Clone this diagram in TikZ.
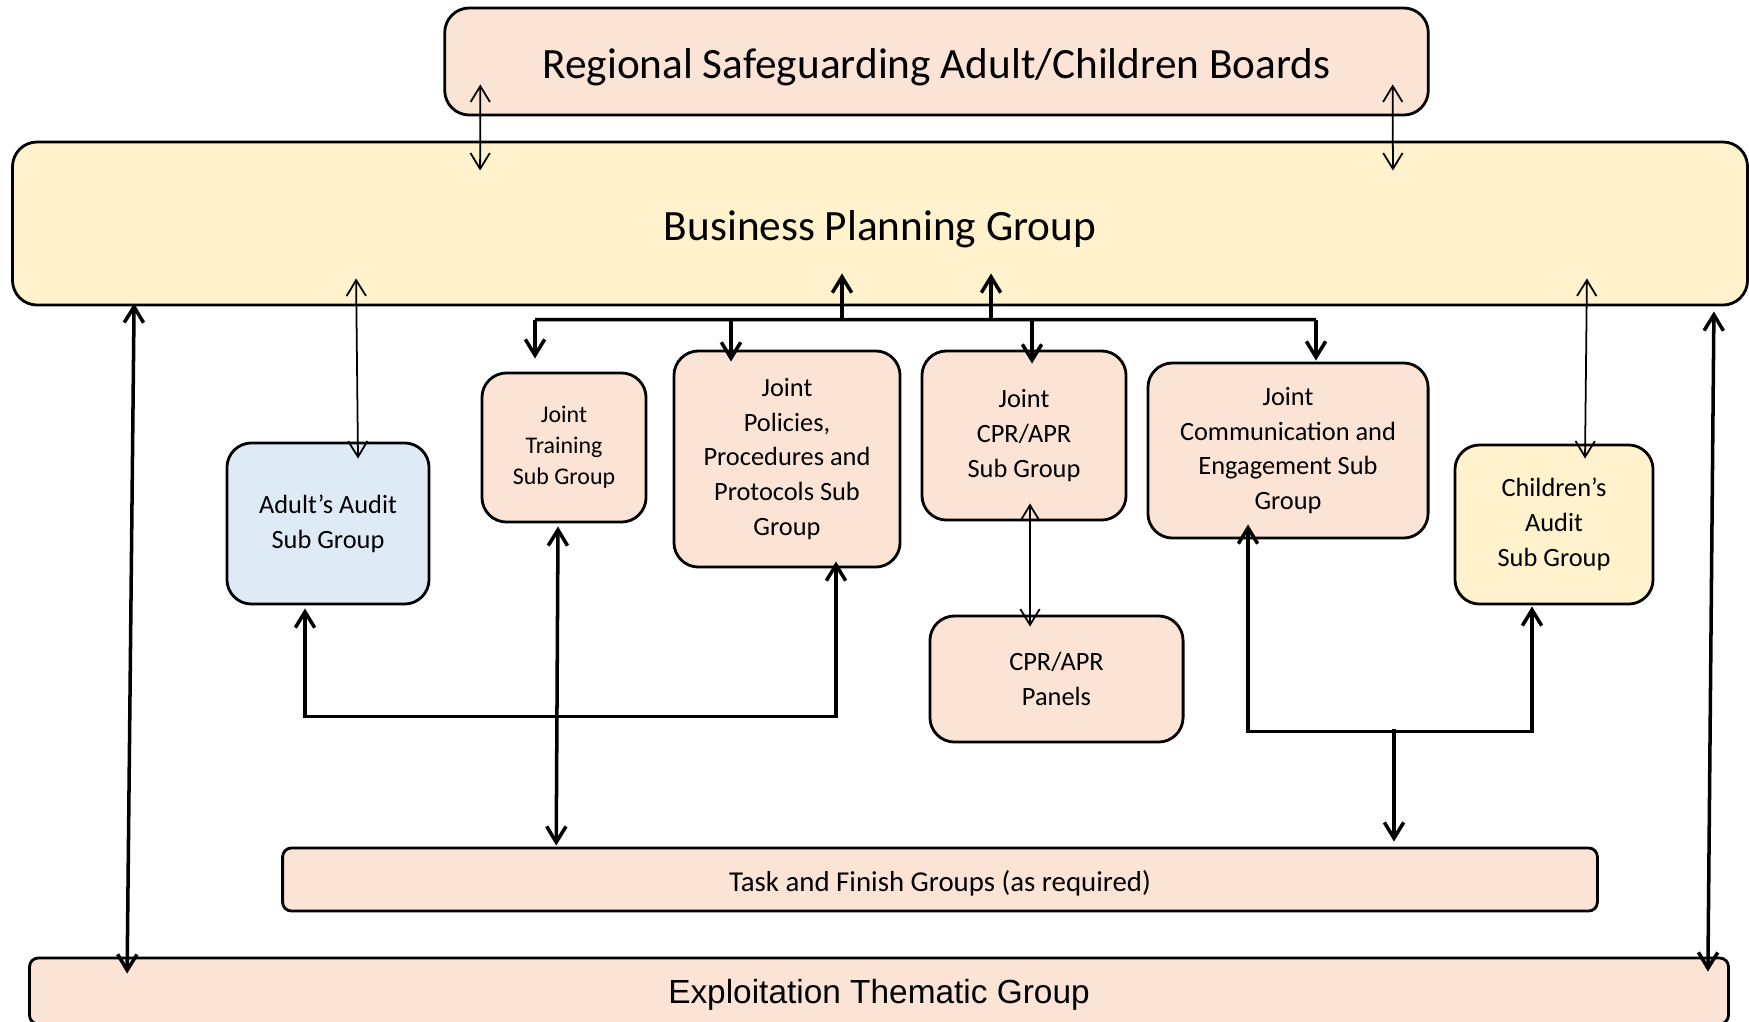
\documentclass[tikz,border=0pt]{standalone}
\usepackage{fontspec}
\setmainfont{Carlito}
\newfontfamily\arialfont{Liberation Sans}
\usetikzlibrary{calc,arrows.meta}
\definecolor{peach}{HTML}{FBE4D5}
\definecolor{pale}{HTML}{FFF2CC}
\definecolor{skyblue}{HTML}{DEEBF7}

\begin{document}
\begin{tikzpicture}[x=0.01cm, y=-0.01cm,
		>={Straight Barb[length=4.5pt,width=5.5pt]},
		box/.style={draw=black, line width=0.8pt, rounded corners=7pt, align=center, inner sep=0pt, fill=peach, font=\fontsize{7.5}{9.9}\selectfont, execute at begin node={\rule{0pt}{0.98em}}},
		bigbox/.style={box, font=\fontsize{12.3}{14}\selectfont, execute at begin node={\rule{0pt}{0.9em}}},
		bar/.style={box, rounded corners=2.5pt, execute at begin node={\rule{0pt}{0.96em}}},
		thinline/.style={line width=0.5pt},
		thickline/.style={line width=1pt}]
		%%%%% START %%%%%
		\useasboundingbox (0,0) rectangle (1749,1021);
		
		\node[bigbox, minimum width=9.83cm, minimum height=1.07cm] (regional) at (936.5,61.5) {Regional Safeguarding Adult/Children Boards};
		\node[bigbox, fill=pale, minimum width=17.34cm, minimum height=1.63cm] (business) at (880,223.5) {Business Planning Group};
		
		\node[box, fill=skyblue, minimum width=2.02cm, minimum height=1.61cm] (adult) at (328,523.5) {Adult’s Audit\\Sub Group};
		\node[box, minimum width=1.64cm, minimum height=1.49cm, font=\fontsize{6.8}{8.8}\selectfont] (training) at (564,447.5) {Joint\\Training\\Sub Group};
		\node[box, minimum width=2.26cm, minimum height=2.16cm] (policies) at (787,459) {Joint\\Policies,\\Procedures and\\Protocols Sub\\Group};
		\node[box, minimum width=2.04cm, minimum height=1.69cm] (cpr) at (1024,435.5) {Joint\\CPR/APR\\Sub Group};
		\node[box, minimum width=2.8cm, minimum height=1.75cm] (comm) at (1288,450.5) {Joint\\Communication and\\Engagement Sub\\Group};
		\node[box, fill=pale, minimum width=1.98cm, minimum height=1.59cm] (children) at (1554,524.5) {Children’s\\Audit\\Sub Group};
		\node[box, minimum width=2.53cm, minimum height=1.26cm] (panels) at (1056.5,679) {CPR/APR\\Panels};
		
		\node[bar, minimum width=13.14cm, minimum height=0.63cm, font=\fontsize{8.2}{10}\selectfont] (task) at (940,879.5) {Task and Finish Groups (as required)};
		\node[bar, minimum width=16.98cm, minimum height=0.66cm, font=\arialfont\fontsize{9.5}{11}\selectfont] (exploit) at (879,991) {Exploitation Thematic Group};
		
		% boards and business planning
		\draw[thinline, <->] ($(regional.south west)+(37,-32)$) -- ($(business.north west)+(469,30)$);
		\draw[thinline, <->] ($(regional.south east)+(-37,-32)$) -- ($(business.north east)+(-356,30)$);
		
		% audit groups
		\draw[thinline, <->] ($(business.south west)+(345,-28)$) -- ($(adult.north)+(30,17)$);
		\draw[thinline, <->] ($(business.south east)+(-162,-28)$) -- ($(children.north)+(31,15)$);
		
		% joint sub groups
		\coordinate (busL) at ($(training.north)+(-29,-52)$);
		\coordinate (busR) at ($(comm.north)+(28,-42)$);
		\draw[thickline] (busL) -- (busR);
		\draw[thickline, ->] ($(busL)+(307,0)$) -- ($(business.south)+(-38,-33)$);
		\draw[thickline, ->] ($(busL)+(456,0)$) -- ($(business.south)+(111,-33)$);
		\draw[thickline, ->] (busL) -- ($(training.north)+(-29,-13)$);
		\draw[thickline, ->] ($(busL)+(196,0)$) -- ($(policies.north)+(-56,12)$);
		\draw[thickline, ->] ($(busL)+(497,0)$) -- ($(cpr.north)+(8,14)$);
		\draw[thickline, ->] (busR) -- ($(comm.north)+(28,-1)$);
		
		\draw[thickline, <->] ($(adult.south)+(-23,3)$) |- ($(policies.south)+(49,148)$) -- ($(policies.south)+(49,-7)$);
		\draw[thickline, <->] ($(training.south)+(-6,3)$) -- ($(task.north west)+(275,-1)$);
		\draw[thinline, <->] ($(cpr.south)+(6,-18)$) -- ($(panels.north)+(-26.5,12)$);
		
		\coordinate (fork) at ($(task.north)+(454,-118)$);
		\draw[thickline, <->] ($(comm.south)+(-40,-15)$) |- ($(children.south)+(-22,126)$) -- ($(children.south)+(-22,1)$);
		\draw[thickline, ->] (fork) -- ($(task.north)+(454,-5)$);
		
		% exploitation group
		\draw[thickline, <->] ($(business.south west)+(123,-3)$) -- ($(exploit.north west)+(99,17)$);
		\draw[thickline, <->] ($(business.south east)+(-35,5)$) -- ($(exploit.north east)+(-22,15)$);
		
		%%%%% END %%%%%
\end{tikzpicture}
\end{document}
